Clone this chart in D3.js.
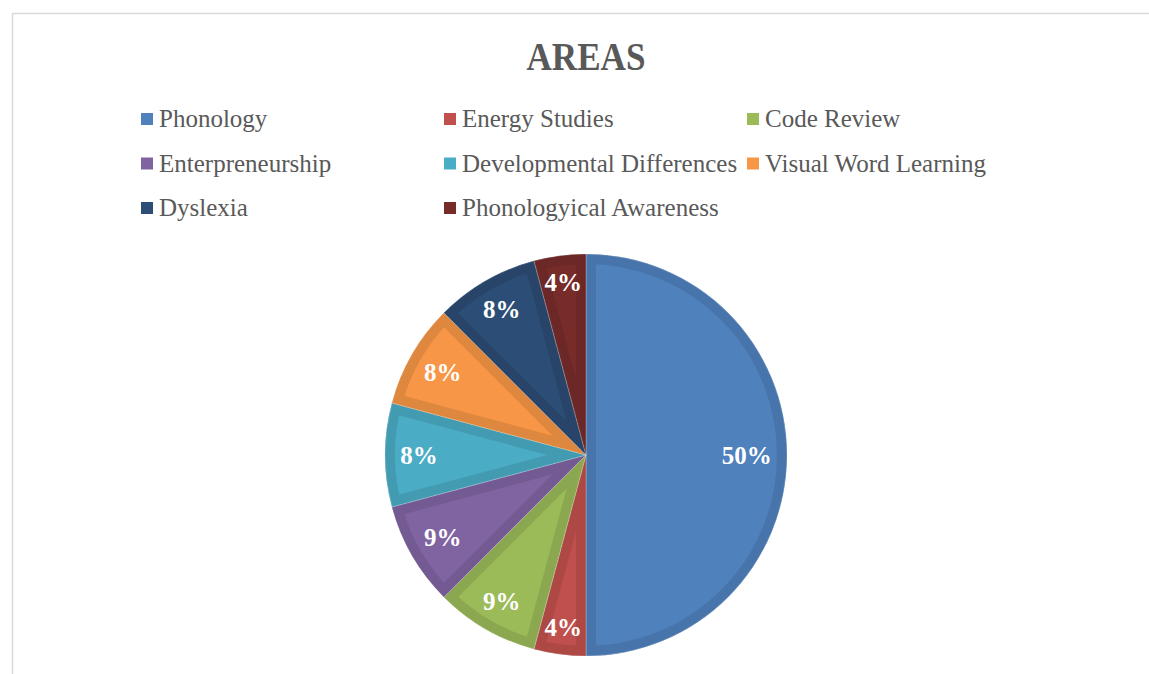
<!DOCTYPE html>
<meta charset="utf-8">
<html>
  <head>
    <title>AREAS</title>
    <script src="https://d3js.org/d3.v7.min.js"></script>
    <style>
      body{margin:0;background:#fff;}
    </style>
  </head>
  <body>
    <div id="chart"></div>
  <script>
    var width=1149,
        height=674;

    var categories=["Phonology","Energy Studies","Code Review","Enterpreneurship",
                    "Developmental Differences","Visual Word Learning","Dyslexia","Phonologyical Awareness"];
    var values=[12,1,2,2,2,2,2,1];
    var pctLabels=["50%","4%","9%","9%","8%","8%","8%","4%"];
    var fills=["#4f81bd","#c0504d","#9bbb59","#8064a2","#4bacc6","#f79646","#2c4d75","#772c2a"];
    var title="AREAS";

    var font="'Liberation Serif', 'DejaVu Serif', serif";
    var textColor="#595959";

    var svg=d3.select("#chart").append("svg")
      .attr("width",width)
      .attr("height",height);

    // chart frame
    svg.append("rect")
      .attr("x",12.5).attr("y",13.5)
      .attr("width",1200).attr("height",700)
      .attr("fill","#fff")
      .attr("stroke","#d9d9d9")
      .attr("stroke-width",1.5);

    // title
    svg.append("text")
      .text(title)
      .attr("x",586).attr("y",70)
      .attr("text-anchor","middle")
      .attr("textLength",119)
      .attr("lengthAdjust","spacingAndGlyphs")
      .style("font-family",font)
      .style("font-weight","bold")
      .style("font-size","40px")
      .style("fill",textColor);

    // legend, 3 columns
    var legend=svg.append("g").selectAll("g")
      .data(categories).enter().append("g")
      .attr("transform",function(d,i){return "translate("+(141+(i%3)*303)+","+(119+Math.floor(i/3)*44.5)+")";});
    legend.append("rect")
      .attr("x",0).attr("y",-6)
      .attr("width",12).attr("height",12)
      .attr("fill",function(d,i){return fills[i];});
    legend.append("text")
      .text(function(d){return d;})
      .attr("x",18).attr("y",8)
      .style("font-family",font)
      .style("font-size","25px")
      .style("fill",textColor);

    // pie
    var cx=586, cy=455, R=201;
    var pie=d3.pie().sort(null).value(function(d){return d;});
    var arcs=pie(values);
    var arc=d3.arc().innerRadius(0).outerRadius(R);

    var pieG=svg.append("g").attr("transform","translate("+cx+","+cy+")");
    var defs=svg.append("defs");

    arcs.forEach(function(a,i){
      defs.append("clipPath").attr("id","clip"+i)
        .append("path").attr("d",arc(a));
    });

    var slices=pieG.selectAll("g.slice")
      .data(arcs).enter().append("g").attr("class","slice");

    // main fill with darker inner band (bevel look)
    slices.append("path")
      .attr("d",arc)
      .attr("clip-path",function(d,i){return "url(#clip"+i+")";})
      .attr("fill",function(d,i){return fills[i];})
      .attr("stroke",function(d,i){return d3.color(fills[i]).darker(0.3);})
      .attr("stroke-width",20)
      .attr("stroke-linejoin","miter");
    slices.append("path")
      .attr("d",arc)
      .attr("fill","none")
      .attr("stroke","#ffffff")
      .attr("stroke-opacity",0.3)
      .attr("stroke-width",0.8);

    // percentage labels, "best fit": outer corner of the label box sits just inside the rim
    var labelSize=25, rimGap=186;
    slices.append("text")
      .text(function(d,i){return pctLabels[i];})
      .attr("text-anchor","middle")
      .attr("dy","0.35em")
      .style("font-family",font)
      .style("font-weight","bold")
      .style("font-size",labelSize+"px")
      .style("fill","#ffffff")
      .attr("transform",function(d){
        var a=(d.startAngle+d.endAngle)/2;
        var s=Math.sin(a), c=-Math.cos(a);
        var w=this.getComputedTextLength(), h=labelSize*0.7;
        var hx=(s<0?-1:1)*w/2, hy=(c<0?-1:1)*h/2;
        var b=s*hx+c*hy;
        var r=-b+Math.sqrt(b*b-(hx*hx+hy*hy-rimGap*rimGap));
        return "translate("+(s*r)+","+(c*r)+")";
      });
  </script>
  </body>
</html>
